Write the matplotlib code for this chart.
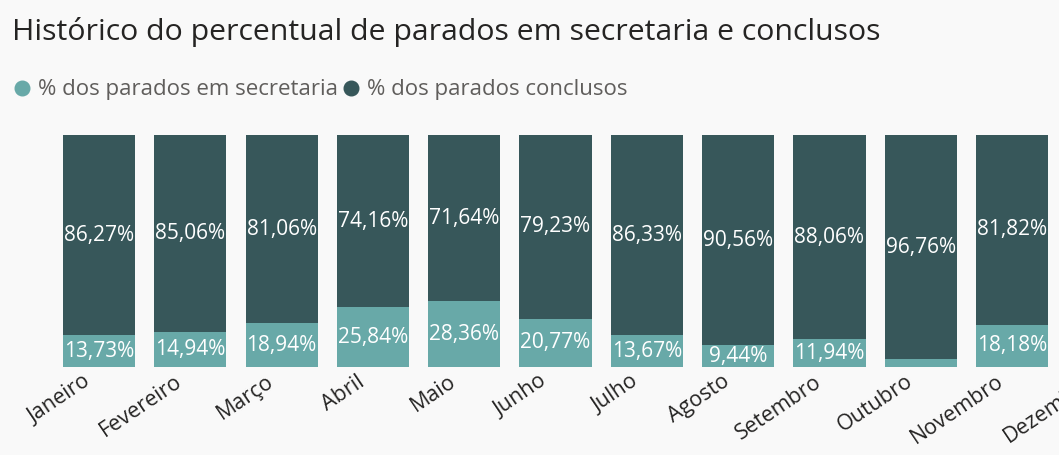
import matplotlib.pyplot as plt
import matplotlib.transforms as mtransforms
from matplotlib.lines import Line2D

plt.rcParams['font.family'] = ['Open Sans', 'DejaVu Sans']

meses = ['Janeiro', 'Fevereiro', 'Março', 'Abril', 'Maio', 'Junho', 'Julho',
         'Agosto', 'Setembro', 'Outubro', 'Novembro', 'Dezembro']
# Dezembro is cut off at the right edge, only its label shows
secretaria = [13.73, 14.94, 18.94, 25.84, 28.36, 20.77, 13.67, 9.44, 11.94, 3.24, 18.18]
conclusos = [86.27, 85.06, 81.06, 74.16, 71.64, 79.23, 86.33, 90.56, 88.06, 96.76, 81.82]

c_sec = '#68A9A8'
c_con = '#37575A'
bg = '#F9F9F9'

W, H = 1059, 455
fig = plt.figure(figsize=(W / 100, H / 100), dpi=100, facecolor=bg)

# axes runs past the right border so Dezembro falls off the canvas
x0, x1 = 53.4, 1149.0
ybot, ytop = 367, 135
ax = fig.add_axes([x0 / W, (H - ybot) / H, (x1 - x0) / W, (ybot - ytop) / H])
ax.set_facecolor(bg)

xs = range(len(secretaria))
b1 = ax.bar(xs, secretaria, width=0.79, color=c_sec)
b2 = ax.bar(xs, conclusos, width=0.79, bottom=secretaria, color=c_con)

def fmt(v):
    return f'{v:.2f}%'.replace('.', ',')

for rect, v in zip(b1, secretaria):
    if v > 5:
        ax.text(rect.get_x() + rect.get_width() / 2, v / 2, fmt(v),
                ha='center', va='center', color='white', fontsize=15)
for rect, s, v in zip(b2, secretaria, conclusos):
    ax.text(rect.get_x() + rect.get_width() / 2, s + v / 2, fmt(v),
            ha='center', va='center', color='white', fontsize=15)

ax.set_xlim(-0.5, 11.5)
ax.set_ylim(0, 100)
ax.set_xticks(range(len(meses)))
ax.set_xticklabels(meses, rotation=34, ha='right', rotation_mode='anchor',
                   fontsize=15.5, color='#252423')
ax.tick_params(axis='x', length=0, pad=3)
shift = mtransforms.ScaledTranslation(-0.16, 0, fig.dpi_scale_trans)
for lbl in ax.get_xticklabels():
    lbl.set_transform(lbl.get_transform() + shift)
ax.set_yticks([])
for s in ax.spines.values():
    s.set_visible(False)

fig.text(12 / W, 1 - 32 / H, 'Histórico do percentual de parados em secretaria e conclusos',
         fontsize=21.8, color='#252423', va='center', ha='left')

handles = [Line2D([], [], marker='o', ls='', color=c_sec, markersize=10.5),
           Line2D([], [], marker='o', ls='', color=c_con, markersize=10.5)]
fig.legend(handles, ['% dos parados em secretaria', '% dos parados conclusos'],
           loc='center left', bbox_to_anchor=(11 / W, 1 - 90 / H), ncol=2,
           frameon=False, fontsize=16, labelcolor='#605E5C',
           borderpad=0, borderaxespad=0,
           handletextpad=0.23, columnspacing=0.05, handlelength=1.0)

fig.savefig('out.png', dpi=100, facecolor=bg)
